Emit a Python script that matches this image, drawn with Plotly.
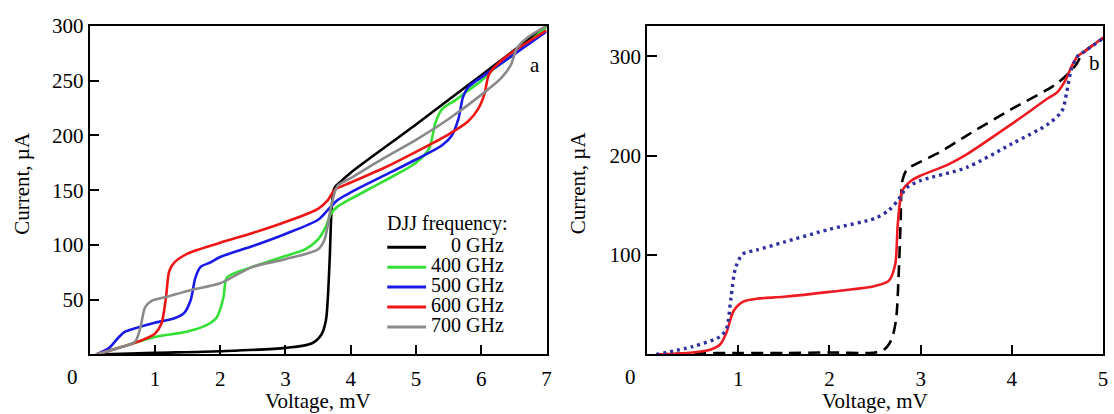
import plotly.graph_objects as go

W, H = 1114, 414
FONT = "Liberation Serif, Times New Roman, serif"

# ---------- Panel a data (Voltage mV, Current uA) ----------
v0 = [0.1, 1.0, 2.0, 3.0, 3.4, 3.55, 3.62, 3.65, 3.68, 3.71, 3.75, 3.85, 4.0, 5.0, 6.0, 7.0]
i0 = [0, 1.5, 3, 6, 10, 18, 31, 52, 90, 135, 152, 158, 166, 210, 255, 300]

v400 = [0.1, 0.5, 1.0, 1.5, 1.8, 1.95, 2.05, 2.1, 2.25, 2.5, 3.0, 3.3, 3.5, 3.62, 3.7, 3.8, 4.0, 4.5, 5.0, 5.2, 5.3, 5.4, 5.6, 5.8, 6.0, 6.2, 6.5, 7.0]
i400 = [0, 7, 16, 21, 27, 34, 52, 70, 75, 80, 90, 96, 105, 117, 129, 135, 142, 158, 175, 188, 212, 224, 232, 241, 250, 261, 274, 299]

v500 = [0.1, 0.3, 0.45, 0.55, 0.7, 1.0, 1.3, 1.45, 1.55, 1.62, 1.7, 1.85, 2.0, 2.5, 3.0, 3.5, 3.65, 3.8, 4.0, 4.5, 5.0, 5.4, 5.55, 5.65, 5.72, 5.8, 6.0, 6.5, 7.0]
i500 = [0, 6, 16, 21, 24, 29, 33, 38, 50, 70, 80, 84, 89, 99, 110, 123, 132, 141, 148, 163, 178, 191, 200, 215, 235, 244, 253, 274, 295]

v600 = [0.1, 0.5, 0.8, 1.0, 1.1, 1.17, 1.22, 1.3, 1.5, 2.0, 2.5, 3.0, 3.5, 3.65, 3.75, 4.0, 4.5, 5.0, 5.5, 5.8, 5.95, 6.05, 6.12, 6.3, 6.5, 7.0]
i600 = [0, 7, 13, 19, 28, 52, 76, 84, 92, 102, 111, 121, 133, 141, 150, 157, 170, 185, 201, 213, 224, 238, 256, 268, 277, 296]

v700 = [0.1, 0.5, 0.7, 0.78, 0.85, 0.95, 1.2, 1.5, 2.0, 2.2, 2.5, 3.0, 3.5, 3.6, 3.7, 3.8, 4.0, 4.5, 5.0, 5.5, 6.0, 6.3, 6.45, 6.55, 6.7, 7.0]
i700 = [0, 7, 12, 25, 43, 49, 53, 58, 65, 71, 80, 87, 96, 105, 135, 154, 161, 179, 196, 215, 237, 252, 264, 280, 289, 300]

names_a = ["0 GHz", "400 GHz", "500 GHz", "600 GHz", "700 GHz"]
colors_a = ["#000000", "#33e033", "#1a1ae8", "#ee1515", "#8a8a8a"]
series_a = [(v0, i0), (v400, i400), (v500, i500), (v600, i600), (v700, i700)]

# ---------- Panel b data ----------
vb_dash = [0.1, 0.5, 1.0, 1.5, 2.0, 2.5, 2.6, 2.68, 2.73, 2.76, 2.78, 2.8, 2.85, 3.0, 3.2, 3.5, 4.0, 4.5, 4.7, 4.75, 4.8, 5.0]
ib_dash = [0, 1, 1.5, 1.5, 2, 2, 5, 15, 35, 83, 132, 175, 186, 194, 203, 220, 247, 273, 291, 299, 305, 318]

vb_red = [0.1, 0.5, 0.7, 0.8, 0.87, 0.95, 1.05, 1.2, 1.5, 2.0, 2.5, 2.65, 2.72, 2.75, 2.8, 2.9, 3.0, 3.3, 3.5, 4.0, 4.4, 4.5, 4.6, 4.65, 4.72, 4.8, 5.0]
ib_red = [0, 2, 5, 10, 22, 44, 53, 56, 58, 63, 69, 74, 90, 132, 165, 175, 180, 191, 201, 232, 258, 264, 278, 289, 300, 305, 319]

vb_dot = [0.1, 0.5, 0.8, 0.87, 0.92, 0.97, 1.05, 1.2, 1.5, 2.0, 2.5, 2.65, 2.75, 2.85, 3.0, 3.5, 4.0, 4.4, 4.55, 4.6, 4.65, 4.72, 4.8, 5.0]
ib_dot = [0, 8, 18, 26, 57, 87, 101, 105, 113, 126, 137, 145, 155, 168, 175, 188, 212, 232, 245, 263, 286, 300, 305, 318]

x_ticks_a = [1, 2, 3, 4, 5, 6, 7]
y_ticks_a = [50, 100, 150, 200, 250, 300]
x_ticks_b = [1, 2, 3, 4, 5]
y_ticks_b = [100, 200, 300]

legend_title = "DJJ frequency:"


def px(x):
    return x / W


def py(y):
    return 1 - y / H


fig = go.Figure()
for (vx, iy), nm, col in zip(series_a, names_a, colors_a):
    fig.add_trace(go.Scatter(x=vx, y=iy, mode="lines", name=nm, showlegend=False,
                             line=dict(color=col, width=2.6, shape="spline", smoothing=0.8),
                             xaxis="x", yaxis="y"))

fig.add_trace(go.Scatter(x=vb_dash, y=ib_dash, mode="lines", showlegend=False,
                         line=dict(color="#000000", width=2.6, dash="12px,7px", shape="spline", smoothing=0.8),
                         xaxis="x2", yaxis="y2"))
fig.add_trace(go.Scatter(x=vb_red, y=ib_red, mode="lines", showlegend=False,
                         line=dict(color="#ee1a22", width=2.6, shape="spline", smoothing=0.8),
                         xaxis="x2", yaxis="y2"))
fig.add_trace(go.Scatter(x=vb_dot, y=ib_dot, mode="lines", showlegend=False,
                         line=dict(color="#30309e", width=3.4, dash="3px,4px", shape="spline", smoothing=0.8),
                         xaxis="x2", yaxis="y2"))

ydom = [py(352.7), py(14.3)]
TS = 21
axis_common = dict(showline=True, linecolor="black", linewidth=1.8, mirror=True,
                   ticks="inside", ticklen=10, tickwidth=1.6, tickcolor="black",
                   showgrid=False, zeroline=False,
                   tickfont=dict(family=FONT, size=TS, color="black"))

fig.update_layout(
    width=W, height=H, margin=dict(l=0, r=0, t=0, b=0),
    paper_bgcolor="white", plot_bgcolor="white",
    xaxis=dict(domain=[px(90), px(549)], range=[0, 7], tickvals=x_ticks_a,
               ticklabelstandoff=4, anchor="y", **axis_common),
    yaxis=dict(domain=ydom, range=[0, 300], tickvals=y_ticks_a,
               ticklabelstandoff=0, anchor="x", **axis_common),
    xaxis2=dict(domain=[px(650), px(1108)], range=[0, 5], tickvals=x_ticks_b,
                ticklabelstandoff=4, anchor="y2", **axis_common),
    yaxis2=dict(domain=ydom, range=[0, 330.6], tickvals=y_ticks_b,
                ticklabelstandoff=0, anchor="x2", **axis_common),
    showlegend=False,
)

ann = []
tf = dict(family=FONT, size=TS, color="black")
# origin labels
for x0 in (73, 633):
    ann.append(dict(x=px(x0), y=py(376), xref="paper", yref="paper", text="0",
                    showarrow=False, xanchor="center", yanchor="middle", font=tf))
# axis titles
for xc in (319.5, 879):
    ann.append(dict(x=px(xc), y=py(401), xref="paper", yref="paper", text="Voltage, mV",
                    showarrow=False, xanchor="center", yanchor="middle", font=tf))
for xc in (22, 581):
    ann.append(dict(x=px(xc), y=py(176), xref="paper", yref="paper", text="Current, µA",
                    showarrow=False, xanchor="center", yanchor="middle", textangle=-90, font=tf))
# panel letters
ann.append(dict(x=px(537), y=py(55), xref="paper", yref="paper", text="a",
                showarrow=False, xanchor="center", yanchor="middle", font=tf))
ann.append(dict(x=px(1099), y=py(53), xref="paper", yref="paper", text="b",
                showarrow=False, xanchor="center", yanchor="middle", font=tf))

# legend (panel a)
LS = 20
ann.append(dict(x=px(387), y=py(218), xref="paper", yref="paper", text=legend_title,
                showarrow=False, xanchor="left", yanchor="middle", font=dict(family=FONT, size=LS, color="black")))
shapes = []
row_y = [242.3, 262.8, 283.3, 303.8, 324.3]
for nm, col, ry in zip(names_a, colors_a, row_y):
    ann.append(dict(x=px(508), y=py(ry - 2), xref="paper", yref="paper", text=nm,
                    showarrow=False, xanchor="right", yanchor="middle",
                    font=dict(family=FONT, size=LS, color="black")))
    shapes.append(dict(type="line", xref="paper", yref="paper", x0=px(389), x1=px(428),
                       y0=py(ry), y1=py(ry), line=dict(color=col, width=3)))

fig.update_layout(annotations=ann, shapes=shapes)
fig.write_html("out.html")
